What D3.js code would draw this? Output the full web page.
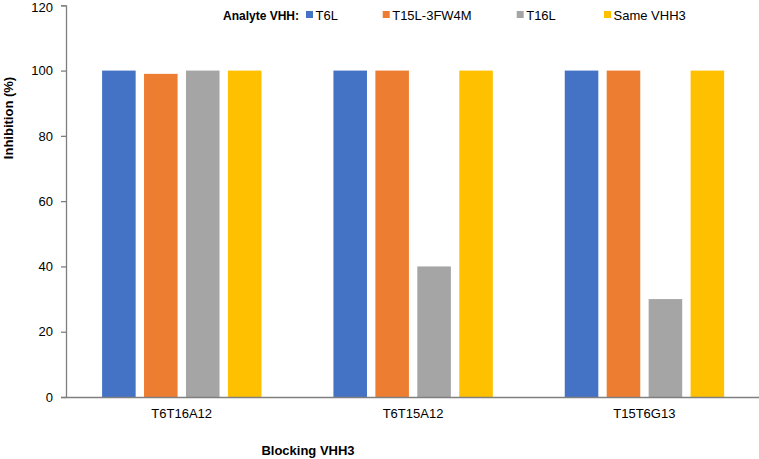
<!DOCTYPE html>
<html><head><meta charset="utf-8">
<script src="https://cdn.jsdelivr.net/npm/d3@7"></script>
<style>body{margin:0;background:#fff}svg{display:block}</style>
</head><body>
<script>
const categories = ["T6T16A12", "T6T15A12", "T15T6G13"];
const seriesNames = ["T6L", "T15L-3FW4M", "T16L", "Same VHH3"];
const T6L = [100, 100, 100];
const T15L_3FW4M = [99, 100, 100];
const T16L = [100, 40, 30];
const SameVHH3 = [100, 100, 100];
const yTicks = [0, 20, 40, 60, 80, 100, 120];
const colors = ["#4472C4", "#ED7D31", "#A5A5A5", "#FFC000"];
const seriesValues = [T6L, T15L_3FW4M, T16L, SameVHH3];

const W = 759, H = 459;
const svg = d3.select("body").append("svg").attr("width", W).attr("height", H);
const mLeft = 66, mRight = 760, mTop = 5.3, mBottom = 397;

const x0 = d3.scaleBand().domain(categories).range([mLeft, mRight]).padding(0);
const bw = x0.bandwidth();
const x1 = d3.scaleBand().domain(seriesNames).range([bw*0.156, bw*0.845]).paddingInner(0.2).paddingOuter(0);
const y = d3.scaleLinear().domain([0, 120]).range([mBottom, mTop]);

// bars
categories.forEach((c, i) => {
  const g = svg.append("g").attr("transform", `translate(${x0(c)},0)`);
  g.selectAll("rect").data(seriesNames).join("rect")
    .attr("x", s => x1(s))
    .attr("width", x1.bandwidth())
    .attr("y", (s, k) => y(seriesValues[k][i]))
    .attr("height", (s, k) => y(0) - y(seriesValues[k][i]))
    .attr("fill", (s, k) => colors[k]);
});

// y axis
const yAxis = svg.append("g").attr("transform", `translate(${mLeft},0)`)
  .call(d3.axisLeft(y).tickValues(yTicks).tickSize(5).tickPadding(8));
yAxis.select(".domain").attr("stroke", "#7f7f7f").attr("stroke-width", 1.3);
yAxis.selectAll(".tick line").attr("stroke", "#7f7f7f").attr("stroke-width", 1.3);
yAxis.selectAll("text").attr("font-family", "Liberation Sans, Arial, sans-serif").attr("font-size", 13).attr("fill", "#000")
  .attr("y", d => d === 120 ? 2 : 0);

// x axis
const xAxis = svg.append("g").attr("transform", `translate(0,${mBottom})`)
  .call(d3.axisBottom(x0).tickSize(0).tickPadding(12));
xAxis.select(".domain").attr("stroke", "#7f7f7f").attr("stroke-width", 1.3);
xAxis.selectAll("text").attr("font-family", "Liberation Sans Narrow, Arial Narrow, Liberation Sans, sans-serif").attr("font-size", 13).attr("fill", "#000");

// axis titles
svg.append("text").attr("transform", "translate(13,118) rotate(-90)")
  .attr("text-anchor", "middle").attr("font-family", "Liberation Sans, Arial, sans-serif")
  .attr("font-weight", "bold").attr("font-size", 13).text("Inhibition (%)");
svg.append("text").attr("x", 308).attr("y", 455)
  .attr("text-anchor", "middle").attr("font-family", "Liberation Sans Narrow, Arial Narrow, Liberation Sans, sans-serif")
  .attr("font-weight", "bold").attr("font-size", 13).text("Blocking VHH3");

// legend
svg.append("text").attr("x", 223).attr("y", 19.5)
  .attr("font-family", "Liberation Sans, Arial, sans-serif").attr("font-weight", "bold")
  .attr("font-size", 12).text("Analyte VHH:");
const legX = [306, 382.7, 516.7, 604];
seriesNames.forEach((s, k) => {
  svg.append("rect").attr("x", legX[k]).attr("y", 11).attr("width", 7).attr("height", 7).attr("fill", colors[k]);
  svg.append("text").attr("x", legX[k] + 9.5).attr("y", 19.5)
    .attr("font-family", "Liberation Sans, Arial, sans-serif").attr("font-size", 13).text(s);
});
</script>
</body></html>
